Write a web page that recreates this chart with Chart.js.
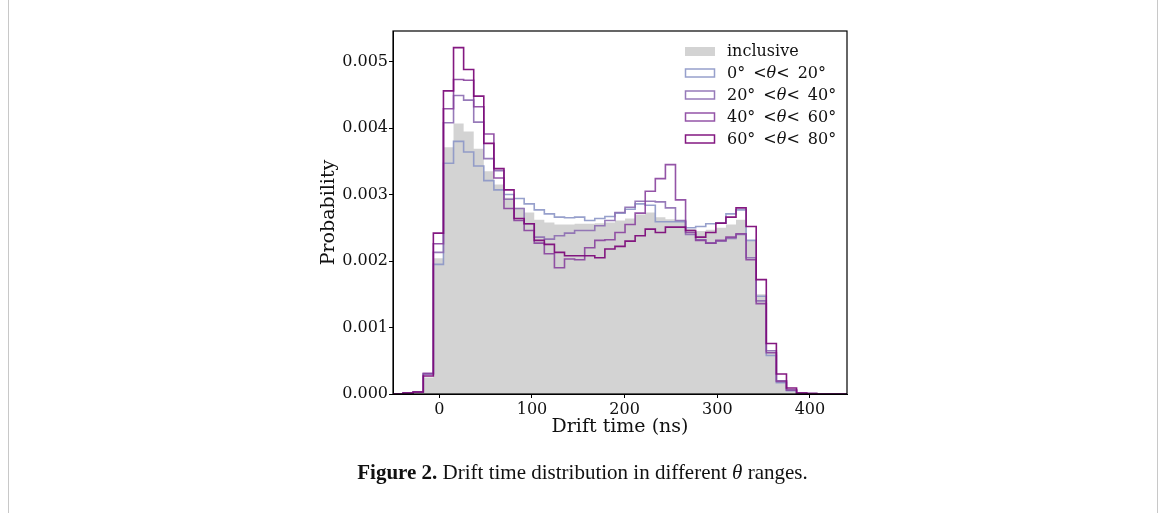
<!DOCTYPE html>
<html>
<head>
<meta charset="utf-8">
<script src="https://cdn.jsdelivr.net/npm/chart.js@4.4.0/dist/chart.umd.min.js"></script>
<style>
  html, body { margin: 0; padding: 0; background: #fff; }
  #page { position: relative; width: 1165px; height: 513px; overflow: hidden; }
  #frame { position: absolute; left: 8px; top: -1px; width: 1150px; height: 530px; border: 1px solid #c8c8c8; box-sizing: border-box; }
  canvas { position: absolute; left: 0; top: 0; }
  #caption { position: absolute; left: 0; width: 1165px; top: 460px; text-align: center;
             font-family: 'Liberation Serif', serif; font-size: 21px; color: #111; }
</style>
</head>
<body>
<div id="page">
  <div id="frame"></div>
  <canvas id="chart" width="1165" height="513"></canvas>
  <div id="caption"><b>Figure 2.</b> Drift time distribution in different <i>θ</i> ranges.</div>
</div>
<script>
// ---- Data: probability per bin, in units of 1e-3 (45 bins from -50 to 440 ns) ----
const histRange = [-50, 440];
const nBins = 45;
const xTicks = [0, 100, 200, 300, 400];
const yTicks = [0, 1, 2, 3, 4, 5];

const seriesLabels = ['inclusive', '0°\u2002<θ<\u200220°', '20°\u2002<θ<\u200240°', '40°\u2002<θ<\u200260°', '60°\u2002<θ<\u200280°'];
const seriesColors = ['#d3d3d3', 'rgba(140,150,198,0.9)', 'rgba(140,107,177,0.9)', 'rgba(136,65,157,0.9)', 'rgba(125,12,122,0.95)'];

const inclusive = [0, 0.01, 0.03, 0.25, 2.04, 3.71, 4.07, 3.95, 3.69, 3.35, 3.15, 2.95, 2.80, 2.73, 2.62,
  2.58, 2.55, 2.55, 2.56, 2.56, 2.57, 2.58, 2.61, 2.64, 2.70, 2.73, 2.66, 2.63, 2.60, 2.48,
  2.45, 2.47, 2.50, 2.55, 2.62, 2.30, 1.50, 0.64, 0.21, 0.07, 0.015, 0.005, 0, 0, 0];
const theta0to20 = [0, 0.015, 0.03, 0.30, 1.95, 3.47, 3.80, 3.64, 3.43, 3.21, 3.07, 3.00, 2.94, 2.86, 2.77,
  2.71, 2.66, 2.65, 2.66, 2.61, 2.64, 2.67, 2.72, 2.78, 2.86, 2.84, 2.59, 2.59, 2.59, 2.50,
  2.52, 2.56, 2.57, 2.71, 2.77, 2.31, 1.47, 0.58, 0.17, 0.05, 0.01, 0.003, 0, 0, 0];
const theta20to40 = [0, 0.015, 0.03, 0.30, 2.13, 4.08, 4.49, 4.42, 4.09, 3.54, 3.36, 2.93, 2.79, 2.56, 2.36,
  2.33, 2.38, 2.42, 2.46, 2.46, 2.53, 2.61, 2.73, 2.81, 2.90, 2.90, 2.89, 2.80, 2.61, 2.40,
  2.32, 2.27, 2.30, 2.34, 2.40, 2.05, 1.40, 0.65, 0.20, 0.06, 0.015, 0.005, 0, 0, 0];
const theta40to60 = [0, 0.015, 0.03, 0.31, 2.26, 4.29, 4.73, 4.72, 4.32, 3.91, 3.25, 2.79, 2.61, 2.46, 2.27,
  2.11, 1.90, 2.03, 2.02, 2.20, 2.31, 2.32, 2.43, 2.55, 2.72, 3.05, 3.24, 3.45, 2.92, 2.43,
  2.31, 2.27, 2.31, 2.36, 2.41, 2.02, 1.36, 0.62, 0.19, 0.06, 0.015, 0.005, 0, 0, 0];
const theta60to80 = [0, 0.015, 0.03, 0.27, 2.42, 4.56, 5.21, 4.88, 4.48, 3.77, 3.39, 3.07, 2.64, 2.56, 2.31,
  2.25, 2.13, 2.08, 2.08, 2.08, 2.05, 2.18, 2.22, 2.30, 2.38, 2.48, 2.43, 2.51, 2.51, 2.46,
  2.36, 2.43, 2.57, 2.66, 2.80, 2.52, 1.72, 0.76, 0.30, 0.09, 0.015, 0.005, 0, 0, 0];

const FONT = '"DejaVu Serif", serif';
const binWidth = (histRange[1] - histRange[0]) / nBins;

// bin values -> points on the left bin edges, closed at the right edge
function stepPoints(vals) {
  const pts = vals.map((v, i) => ({ x: histRange[0] + i * binWidth, y: v }));
  pts.push({ x: histRange[1], y: 0 });
  return pts;
}

function lineSet(i, vals, order) {
  return {
    label: seriesLabels[i], data: stepPoints(vals), stepped: true, fill: false,
    borderColor: seriesColors[i], borderWidth: 1.6, pointRadius: 0, order: order
  };
}

const datasets = [
  { label: seriesLabels[0], data: stepPoints(inclusive), stepped: true, fill: 'origin',
    backgroundColor: seriesColors[0], borderColor: 'rgba(0,0,0,0)', borderWidth: 0, pointRadius: 0, order: 10 },
  lineSet(1, theta0to20, 4),
  lineSet(2, theta20to40, 3),
  lineSet(3, theta40to60, 2),
  lineSet(4, theta60to80, 1)
];

// legend drawn inside the axes, upper right
const boxLegend = {
  id: 'boxLegend',
  afterDatasetsDraw(chart) {
    const ctx = chart.ctx, area = chart.chartArea;
    const x0 = area.right - 162, y0 = area.top + 20, dy = 22;
    ctx.save();
    ctx.textBaseline = 'middle';
    chart.data.datasets.forEach((ds, i) => {
      const y = y0 + i * dy;
      if (ds.fill) {
        ctx.fillStyle = ds.backgroundColor;
        ctx.fillRect(x0, y - 4, 30, 9);
      } else {
        ctx.strokeStyle = ds.borderColor;
        ctx.lineWidth = 1.5;
        ctx.strokeRect(x0 + 0.5, y - 4, 29, 8);
      }
      ctx.fillStyle = '#111';
      let x = x0 + 42;
      ds.label.split(/(θ)/).forEach(part => {
        ctx.font = (part === 'θ' ? 'italic ' : '') + '16px ' + FONT;
        ctx.fillText(part, x, y + 1);
        x += ctx.measureText(part).width;
      });
    });
    ctx.restore();
  }
};

// full box around the axes
const axesFrame = {
  id: 'axesFrame',
  afterDraw(chart) {
    const a = chart.chartArea, ctx = chart.ctx;
    ctx.save();
    ctx.strokeStyle = '#000';
    ctx.lineWidth = 1.2;
    ctx.strokeRect(a.left, a.top, a.right - a.left, a.bottom - a.top);
    ctx.restore();
  }
};

new Chart(document.getElementById('chart'), {
  type: 'line',
  data: { datasets: datasets },
  options: {
    responsive: false,
    animation: false,
    devicePixelRatio: 1,
    layout: { padding: { left: 318, top: 31, right: 318, bottom: 75 } },
    plugins: { legend: { display: false }, tooltip: { enabled: false } },
    scales: {
      x: {
        type: 'linear', min: histRange[0], max: histRange[1],
        afterBuildTicks: s => { s.ticks = xTicks.map(v => ({ value: v })); },
        afterFit: s => { s.height = 44; },
        ticks: { color: '#111', font: { family: FONT, size: 16 }, padding: 2, maxRotation: 0, autoSkip: false },
        grid: { drawOnChartArea: false, drawTicks: true, tickLength: 4, color: '#000' },
        border: { display: true, color: '#000' },
        title: { display: true, text: 'Drift time (ns)', color: '#111', font: { family: FONT, size: 19 }, padding: { top: 0, bottom: 0 } }
      },
      y: {
        type: 'linear', min: 0, max: 5.46,
        afterBuildTicks: s => { s.ticks = yTicks.map(v => ({ value: v })); },
        afterFit: s => { s.width = 75; },
        ticks: { color: '#111', font: { family: FONT, size: 16 }, padding: 1,
                 callback: v => (v / 1000).toFixed(3) },
        grid: { drawOnChartArea: false, drawTicks: true, tickLength: 4, color: '#000' },
        border: { display: true, color: '#000' },
        title: { display: true, text: 'Probability', color: '#111', font: { family: FONT, size: 19 }, padding: { top: 0, bottom: 0 } }
      }
    }
  },
  plugins: [boxLegend, axesFrame]
});
</script>
</body>
</html>
